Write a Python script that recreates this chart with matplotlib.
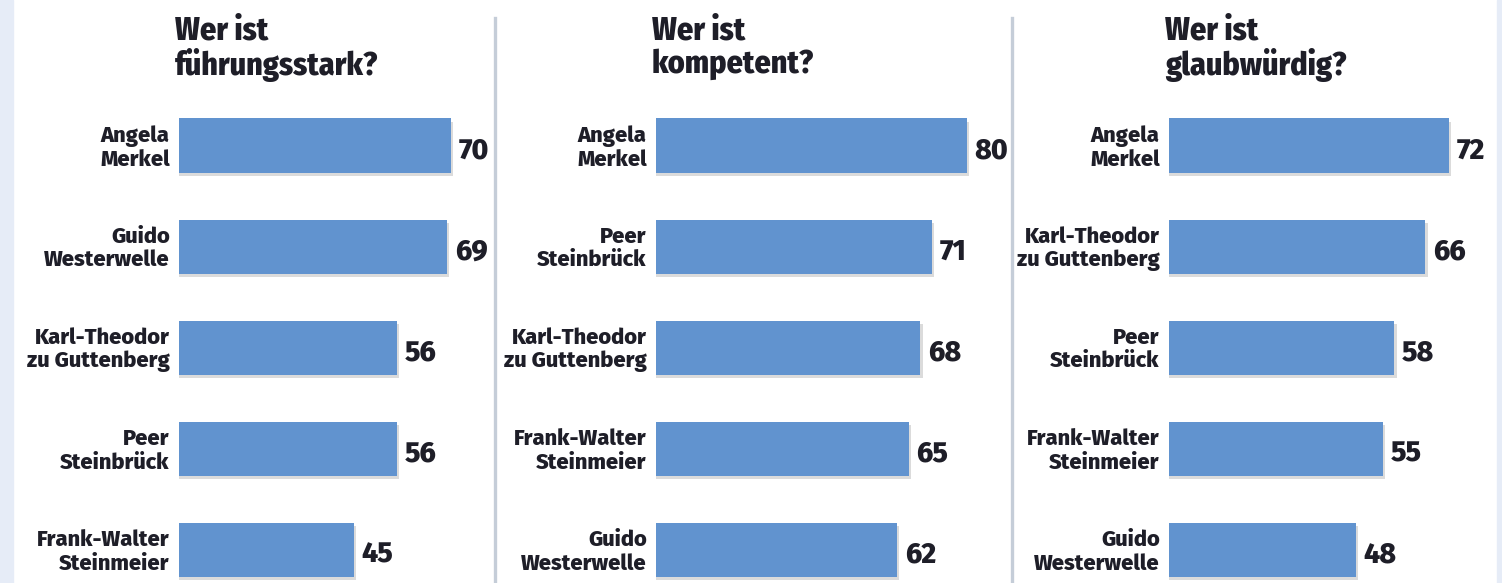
import matplotlib
matplotlib.use("Agg")
import matplotlib.pyplot as plt
from matplotlib import font_manager
from matplotlib.patches import Rectangle
from matplotlib.lines import Line2D

# data
titles = ["Wer ist\nführungsstark?", "Wer ist\nkompetent?", "Wer ist\nglaubwürdig?"]
names_1 = ["Angela\nMerkel", "Guido\nWesterwelle", "Karl-Theodor\nzu Guttenberg",
           "Peer\nSteinbrück", "Frank-Walter\nSteinmeier"]
values_1 = [70, 69, 56, 56, 45]
names_2 = ["Angela\nMerkel", "Peer\nSteinbrück", "Karl-Theodor\nzu Guttenberg",
           "Frank-Walter\nSteinmeier", "Guido\nWesterwelle"]
values_2 = [80, 71, 68, 65, 62]
names_3 = ["Angela\nMerkel", "Karl-Theodor\nzu Guttenberg", "Peer\nSteinbrück",
           "Frank-Walter\nSteinmeier", "Guido\nWesterwelle"]
values_3 = [72, 66, 58, 55, 48]

installed = {f.name for f in font_manager.fontManager.ttflist}
cond = "Fira Sans Condensed" if "Fira Sans Condensed" in installed else "DejaVu Sans"
regular = "Fira Sans" if "Fira Sans" in installed else "DejaVu Sans"
plt.rcParams["font.family"] = [regular, "DejaVu Sans"]

W, H = 1502, 583
fig = plt.figure(figsize=(W / 100, H / 100), dpi=100)
fig.patch.set_facecolor("white")

bar_color = "#6193cf"
text_color = "#1e1e28"
px_per_unit = 3.886

# side strips and dividers
fig.add_artist(Rectangle((0, 0), 13 / W, 1, transform=fig.transFigure,
                         color="#e6ecf7", zorder=0))
fig.add_artist(Rectangle((1497 / W, 0), 5 / W, 1, transform=fig.transFigure,
                         color="#e6ecf7", zorder=0))
for xd in [495, 1012]:
    fig.add_artist(Line2D([xd / W, xd / W], [0, 1 - 18 / H], transform=fig.transFigure,
                          color="#c5cdd8", lw=2.4))

panels = [(179, names_1, values_1, titles[0]),
          (656, names_2, values_2, titles[1]),
          (1169, names_3, values_3, titles[2])]

row0, step = 145.5, 101.1
for left, names, vals, title in panels:
    ax = fig.add_axes([left / W, 0, 100 * px_per_unit / W, 1])
    ax.set_xlim(0, 100)
    ax.set_ylim((H - row0) / step, -row0 / step)
    ax.axis("off")
    ypos = list(range(len(vals)))
    # soft shadow
    ax.barh([y + 0.035 for y in ypos], [v + 0.6 for v in vals], height=0.535,
            color="#9a9a9a", alpha=0.35, zorder=1)
    ax.barh(ypos, vals, height=0.535, color=bar_color, zorder=2)
    for y, v, n in zip(ypos, vals, names):
        ax.text(v + 2.0, y + 0.05, str(v), ha="left", va="center",
                fontsize=20.5, fontweight=800, color=text_color)
        ax.text(-2.4, y + 0.02, n, ha="right", va="center", fontsize=15.8,
                fontweight=800, color=text_color, linespacing=1.12)
    ax.text(-1, -row0 / step + 15 / step, title, ha="left", va="top",
            fontsize=23, fontweight=800, color=text_color, linespacing=1.05,
            family=[cond, "DejaVu Sans"])

fig.savefig("out.png", dpi=100, facecolor=fig.get_facecolor())
